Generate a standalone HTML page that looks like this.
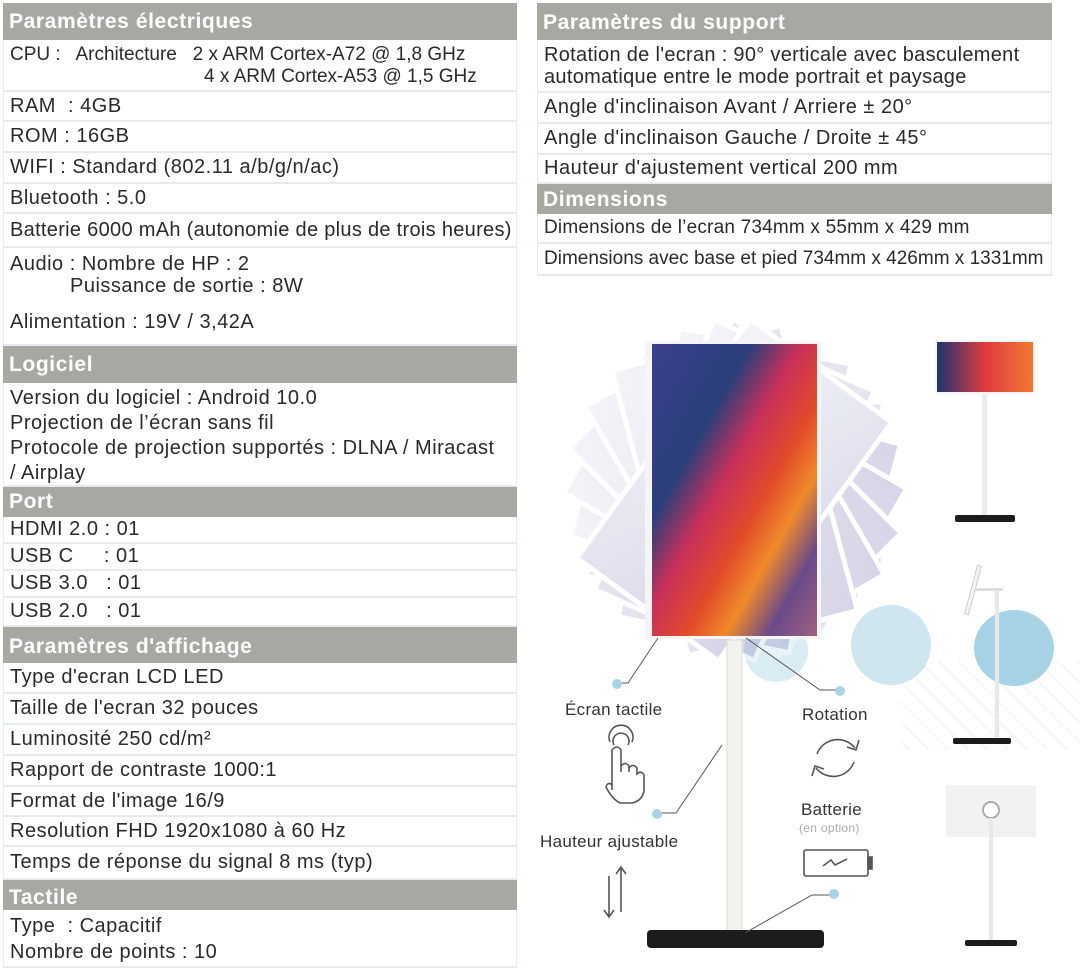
<!DOCTYPE html>
<html><head><meta charset="utf-8"><style>
*{margin:0;padding:0;box-sizing:border-box}
body{width:1080px;height:972px;background:#fff;position:relative;overflow:hidden;font-family:"Liberation Sans",sans-serif;color:#2a2a2a}
.r{position:absolute;border-bottom:2px solid #e3ebef;border-left:1px solid #e3ebef;border-right:1px solid #e3ebef;font-size:20px;letter-spacing:.5px;padding-left:6px;white-space:nowrap;line-height:22px}
.h{position:absolute;background:#a8a8a3;color:#fff;font-weight:bold;font-size:21px;padding-left:6px;letter-spacing:.6px;white-space:nowrap}
.L{left:3px;width:514px}
.R{left:537px;width:515px}
.lbl{position:absolute;font-size:17px;color:#333;white-space:nowrap;letter-spacing:.3px}
</style></head><body>
<div class="h L" style="top:3px;height:37px;line-height:37px">Paramètres électriques</div>
<div class="r L" style="top:40px;height:52px;padding-top:4px;font-size:19px;letter-spacing:0">CPU :&nbsp;&nbsp; Architecture&nbsp;&nbsp; 2 x ARM Cortex-A72 @ 1,8 GHz<br><span style="padding-left:194px">4 x ARM Cortex-A53 @ 1,5 GHz</span></div>
<div class="r L" style="top:92px;height:30px;line-height:28px">RAM&nbsp; : 4GB</div>
<div class="r L" style="top:122px;height:31px;line-height:29px">ROM : 16GB</div>
<div class="r L" style="top:153px;height:31px;line-height:29px">WIFI : Standard (802.11 a/b/g/n/ac)</div>
<div class="r L" style="top:184px;height:30px;line-height:28px">Bluetooth : 5.0</div>
<div class="r L" style="top:214px;height:34px;line-height:32px;letter-spacing:.3px">Batterie 6000 mAh (autonomie de plus de trois heures)</div>
<div class="r L" style="top:248px;height:98px;padding-top:5px">Audio : Nombre de HP : 2<br><span style="padding-left:60px">Puissance de sortie : 8W</span><div style="margin-top:14px">Alimentation : 19V / 3,42A</div></div>
<div class="h L" style="top:346px;height:37px;line-height:37px">Logiciel</div>
<div class="r L" style="top:383px;height:104px;padding-top:3px;line-height:25px">Version du logiciel : Android 10.0<br>Projection de l’écran sans fil<br>Protocole de projection supportés : DLNA / Miracast<br>/ Airplay</div>
<div class="h L" style="top:487px;height:30px;line-height:30px">Port</div>
<div class="r L" style="top:517px;height:27px;line-height:25px">HDMI 2.0 : 01</div>
<div class="r L" style="top:544px;height:27px;line-height:25px">USB C&nbsp;&nbsp;&nbsp;&nbsp; : 01</div>
<div class="r L" style="top:571px;height:27px;line-height:25px">USB 3.0&nbsp;&nbsp; : 01</div>
<div class="r L" style="top:598px;height:29px;line-height:27px">USB 2.0&nbsp;&nbsp; : 01</div>
<div class="h L" style="top:627px;height:36px;line-height:40px">Paramètres d'affichage</div>
<div class="r L" style="top:663px;height:31px;line-height:29px">Type d'ecran LCD LED</div>
<div class="r L" style="top:694px;height:31px;line-height:29px">Taille de l'ecran 32 pouces</div>
<div class="r L" style="top:725px;height:31px;line-height:29px">Luminosité 250 cd/m²</div>
<div class="r L" style="top:756px;height:31px;line-height:29px">Rapport de contraste 1000:1</div>
<div class="r L" style="top:787px;height:30px;line-height:28px">Format de l'image 16/9</div>
<div class="r L" style="top:817px;height:30px;line-height:28px">Resolution FHD 1920x1080 à 60 Hz</div>
<div class="r L" style="top:847px;height:33px;line-height:31px">Temps de réponse du signal 8 ms (typ)</div>
<div class="h L" style="top:880px;height:30px;line-height:36px">Tactile</div>
<div class="r L" style="top:910px;height:58px;padding-top:3px;line-height:26px">Type&nbsp; : Capacitif<br>Nombre de points : 10</div>
<div class="h R" style="top:3px;height:37px;line-height:40px">Paramètres du support</div>
<div class="r R" style="top:40px;height:53px;padding-top:4px;letter-spacing:.3px">Rotation de l'ecran : 90° verticale avec basculement<br>automatique entre le mode portrait et paysage</div>
<div class="r R" style="top:93px;height:31px;line-height:29px">Angle d'inclinaison Avant / Arriere ± 20°</div>
<div class="r R" style="top:124px;height:31px;line-height:29px">Angle d'inclinaison Gauche / Droite ± 45°</div>
<div class="r R" style="top:155px;height:29px;line-height:27px">Hauteur d'ajustement vertical 200 mm</div>
<div class="h R" style="top:184px;height:30px;line-height:32px">Dimensions</div>
<div class="r R" style="top:214px;height:30px;line-height:28px;font-size:19px;letter-spacing:.2px">Dimensions de l’ecran 734mm x 55mm x 429 mm</div>
<div class="r R" style="top:244px;height:32px;line-height:30px;font-size:19px;letter-spacing:0">Dimensions avec base et pied 734mm x 426mm x 1331mm</div>
<svg style="position:absolute;left:0;top:0" width="1080" height="972">
<defs>
<linearGradient id="fan" x1="0" y1="0" x2="1" y2="1"><stop offset="0" stop-color="#e4e6f2"/><stop offset="1" stop-color="#9a96c4"/></linearGradient>
<linearGradient id="scr" x1="0" y1="0" x2="1" y2="1"><stop offset="0" stop-color="#3b3f8f"/><stop offset=".3" stop-color="#2a3f7a"/><stop offset=".45" stop-color="#c8305a"/><stop offset=".6" stop-color="#e24a2a"/><stop offset=".72" stop-color="#f08a2a"/><stop offset=".85" stop-color="#6a4a8a"/><stop offset="1" stop-color="#a06080"/></linearGradient>
<linearGradient id="scr2" x1="0" y1="0" x2="1" y2="0"><stop offset="0" stop-color="#1e3470"/><stop offset=".5" stop-color="#e03a40"/><stop offset="1" stop-color="#f07a30"/></linearGradient>
<pattern id="hat" width="14" height="14" patternUnits="userSpaceOnUse" patternTransform="rotate(-45)"><line x1="0" y1="0" x2="0" y2="14" stroke="#e6ecf2" stroke-width="1.5"/></pattern>
</defs>
<rect x="900" y="660" width="180" height="90" fill="url(#hat)"/>
<circle cx="776" cy="650" r="32" fill="#d9ecf4"/>
<circle cx="891" cy="645" r="40" fill="#cfe5ef"/>
<ellipse cx="1014" cy="648" rx="40" ry="38" fill="#a8d2e6"/>
<g transform="translate(735,490)" opacity=".4">
<g fill="url(#fan)" stroke="#fff" stroke-width="5">
<rect x="-147" y="-88" width="295" height="175"/>
<rect x="-88" y="-147" width="175" height="295" transform="rotate(-75)"/>
<rect x="-88" y="-147" width="175" height="295" transform="rotate(-60)"/>
<rect x="-88" y="-147" width="175" height="295" transform="rotate(-45)"/>
<rect x="-88" y="-147" width="175" height="295" transform="rotate(-30)"/>
<rect x="-88" y="-147" width="175" height="295" transform="rotate(-15)"/>
<rect x="-88" y="-147" width="175" height="295" transform="rotate(12)"/>
<rect x="-88" y="-147" width="175" height="295" transform="rotate(24)"/>
<rect x="-88" y="-147" width="175" height="295" transform="rotate(36)"/>
</g></g>
<rect x="727" y="640" width="15" height="292" fill="#f2f2ee" stroke="#dcdcd6"/>
<rect x="647" y="930" width="177" height="18" rx="4" fill="#1c1c1c"/>
<rect x="645" y="341" width="176" height="298" fill="#f5f5f5"/>
<rect x="652" y="344" width="165" height="292" fill="url(#scr)"/>
<g stroke="#555" stroke-width="1" fill="none">
<polyline points="658,638 628,683 618,683"/>
<polyline points="746,638 820,690 838,690"/>
<polyline points="722,745 676,813 660,813"/>
<polyline points="745,933 812,895 832,895"/>
</g>
<g fill="#a9d4e8"><circle cx="617" cy="684" r="5"/><circle cx="840" cy="691" r="5"/><circle cx="657" cy="814" r="5"/><circle cx="834" cy="894" r="5"/></g>
<g stroke="#555" stroke-width="1.6" fill="none">
<path d="M612,790 l0,-40 q5,-6 9,0 l0,22 l0,-6 q4,-5 8,0 l0,6 l0,-4 q4,-5 8,0 l0,6 q4,-4 7,1 l0,16 q-2,10 -12,12 l-12,0 q-8,-4 -14,-16 q2,-6 6,-2z"/>
<path d="M614,745 a8,8 0 1 1 14,0"/><path d="M610,742 a12,12 0 1 1 22,0"/>
<path d="M855,748 a22,22 0 0 0 -38,6"/><path d="M816,768 a22,22 0 0 0 38,-6"/>
<path d="M859,740 l-3,10 l-9,-3"/><path d="M812,776 l3,-10 l9,3"/>
<rect x="804" y="850" width="64" height="26" rx="2"/><rect x="868" y="857" width="4" height="12" fill="#555"/>
<path d="M823,866 l8,-6 l4,5 l12,-6"/>
<path d="M621,868 l0,44 M616,874 l5,-7 l5,7"/><path d="M609,876 l0,40 M604,910 l5,7 l5,-7"/>
</g>
<rect x="935" y="340" width="100" height="55" fill="#f5f5f5"/>
<rect x="937" y="342" width="96" height="50" fill="url(#scr2)"/>
<rect x="982" y="395" width="5" height="120" fill="#ececea"/>
<rect x="955" y="515" width="60" height="7" rx="2" fill="#1c1c1c"/>
<rect x="971" y="565" width="4" height="50" fill="#f4f4f4" stroke="#ccc" transform="rotate(15 973 590)"/>
<rect x="975" y="588" width="28" height="3" fill="#ddd"/>
<rect x="995" y="590" width="4" height="148" fill="#e8e8e6"/>
<rect x="953" y="738" width="58" height="6" rx="2" fill="#1c1c1c"/>
<rect x="946" y="785" width="90" height="52" fill="#f2f2f2"/>
<circle cx="991" cy="810" r="8" fill="#fff" stroke="#aaa" stroke-width="2"/>
<rect x="989" y="818" width="4" height="122" fill="#e8e8e6"/>
<rect x="965" y="940" width="52" height="6" rx="2" fill="#1c1c1c"/>
</svg>
<div class="lbl" style="left:565px;top:700px">Écran tactile</div>
<div class="lbl" style="left:802px;top:705px">Rotation</div>
<div class="lbl" style="left:801px;top:800px">Batterie</div>
<div class="lbl" style="left:799px;top:821px;font-size:12px;color:#aaa">(en option)</div>
<div class="lbl" style="left:540px;top:832px">Hauteur ajustable</div>
</body></html>
